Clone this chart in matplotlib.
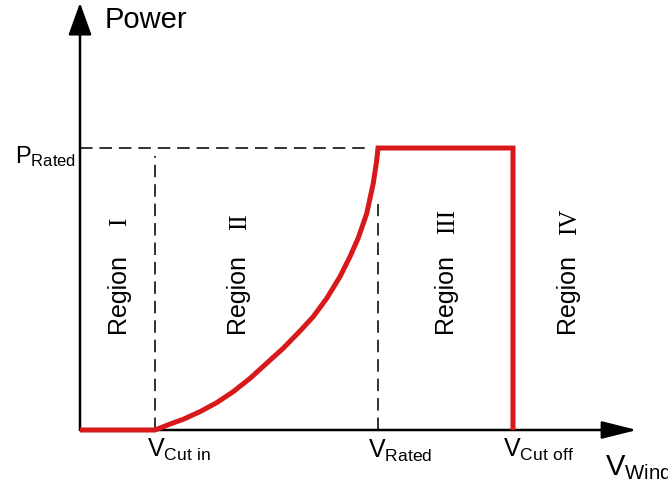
import matplotlib
matplotlib.use("Agg")
import matplotlib.pyplot as plt

plt.rcParams['font.family'] = ['Liberation Sans', 'DejaVu Sans']
plt.rcParams['mathtext.fontset'] = 'custom'
plt.rcParams['mathtext.rm'] = 'Liberation Sans'
plt.rcParams['lines.scale_dashes'] = False

# characteristic wind speeds (schematic units) and rated power
v_cut_in = 3.0
v_rated = 11.92
v_cut_off = 17.32
p_rated = 1.0

# power curve (wind speed, power)
curve_v = [0.0, 3.0, 3.6, 4.13, 4.8, 5.47, 6.13, 6.8, 7.47, 8.13, 8.8, 9.33, 9.87,
           10.4, 10.8, 11.13, 11.47, 11.73, 11.87, 11.92, 17.32, 17.32]
curve_p = [0.0, 0.0, 0.021, 0.038, 0.065, 0.097, 0.136, 0.183, 0.237, 0.29, 0.351, 0.402, 0.467,
           0.544, 0.615, 0.681, 0.768, 0.875, 0.957, 1.0, 1.0, 0.0]

region_names = ['I', 'II', 'III', 'IV']
region_x = [1.5, 6.28, 14.6, 19.48]

red = '#d7191c'

fig = plt.figure(figsize=(6.68, 4.86), dpi=100)
ax = fig.add_axes([0, 0, 1, 1])
ax.set_xlim(-3.2, 23.52)
ax.set_ylim(-0.1986, 1.525)
ax.axis('off')

# axes with arrows
ax.annotate('', xy=(0, 1.515), xytext=(0, 0),
            arrowprops=dict(arrowstyle='-|>,head_length=1.0,head_width=0.36', mutation_scale=20,
                            lw=1.8, color='black', shrinkA=0, shrinkB=0))
ax.annotate('', xy=(22.28, 0), xytext=(0, 0),
            arrowprops=dict(arrowstyle='-|>,head_length=1.08,head_width=0.27', mutation_scale=20,
                            lw=1.8, color='black', shrinkA=0, shrinkB=0))

# dashed guides
ax.plot([0, v_rated - 0.3], [p_rated, p_rated], color='#222222', lw=1.3, dashes=(9, 5))
ax.plot([v_cut_in, v_cut_in], [0, p_rated - 0.03], color='#222222', lw=1.3, dashes=(9, 5))
ax.plot([v_rated, v_rated], [0, 0.8], color='#222222', lw=1.3, dashes=(9, 5))

# power curve
ax.plot(curve_v, curve_p, color=red, lw=3.6, solid_joinstyle='miter', solid_capstyle='butt',
        zorder=5)

# labels
ax.text(1.0, 1.454, 'Power', fontsize=21, va='center', ha='left')
ax.annotate(r'$\mathregular{P_{Rated}}$', xy=(0, p_rated), xytext=(-65, -15),
            textcoords='offset pixels', fontsize=17, va='baseline', ha='left')
ax.annotate(r'$\mathregular{V_{Cut\ in}}$', xy=(v_cut_in, 0), xytext=(-8, -27),
            textcoords='offset pixels', fontsize=18, va='baseline', ha='left')
ax.annotate(r'$\mathregular{V_{Rated}}$', xy=(v_rated, 0), xytext=(-10, -28),
            textcoords='offset pixels', fontsize=18, va='baseline', ha='left')
ax.annotate(r'$\mathregular{V_{Cut\ off}}$', xy=(v_cut_off, 0), xytext=(-10, -27),
            textcoords='offset pixels', fontsize=18, va='baseline', ha='left')
ax.annotate(r'$\mathregular{V_{Wind}}$', xy=(22.28, 0), xytext=(-32, -45),
            textcoords='offset pixels', fontsize=21, va='baseline', ha='left')

for name, x in zip(region_names, region_x):
    ax.text(x, 0.344, 'Region', fontsize=18, rotation=90, ha='center', va='bottom')
    ax.text(x + 0.12, 0.738, name, fontsize=18, rotation=90, ha='center', va='center',
            family='Liberation Serif')

fig.savefig('out.png', dpi=100)
